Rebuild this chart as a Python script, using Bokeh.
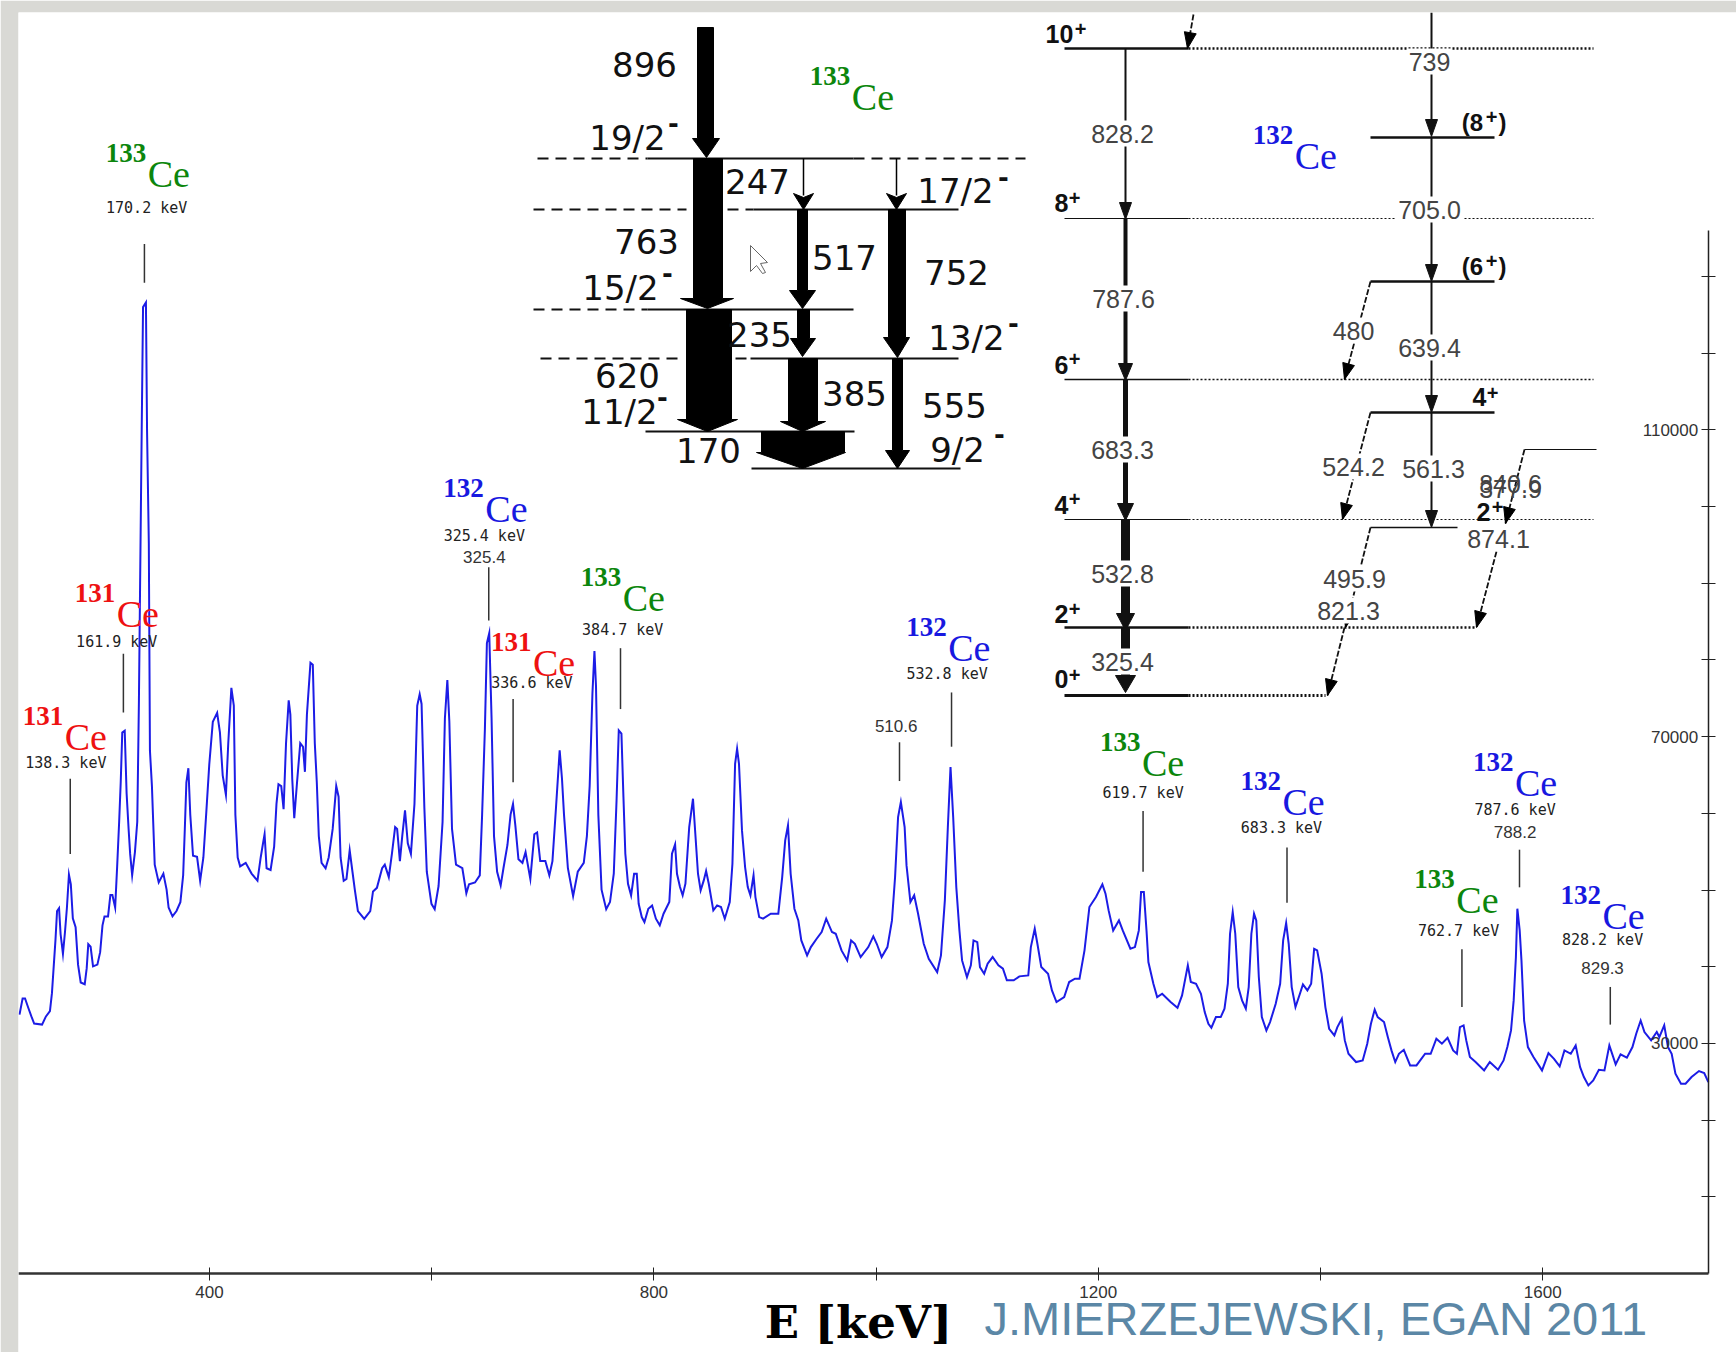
import math
from bokeh.plotting import figure
from bokeh.embed import file_html
from bokeh.resources import INLINE
from bokeh.core.properties import value
from bokeh.models import FixedTicker, Range1d

energies = [229.0,231.8,234,236.8,239.7,242.2,249.3,252.8,256.4,258.2,259.9,261.4,262.8,264.6,266,268.1,269.9,271.7,273.5,275.2,277,279.5,281.7,284.1,287.7,289.5,290.9,293,295.2,299.1,301.6,303.7,305.5,308.7,310.8,312.6,315.1,316.9,318.7,320.1,321.5,323.7,325.4,327.2,328.6,330.4,332.9,335,336.5,337.5,339,340.2,342.8,343.8,345.4,346.4,348.2,350.7,354.3,358.5,361.4,363.2,366.7,370.3,373.8,376.3,377.8,379.2,381,382.7,385.2,388.8,391.6,394.5,397,399.8,403,406.9,409.4,411.9,414.8,416.9,419.7,421.9,423.3,425.4,427.6,432.6,437.9,443.2,446.1,448.2,449.6,451.4,455,458.2,460.3,462.1,464.6,466.7,468.9,471.3,472.8,474.5,476.3,478.8,481.7,484.2,485.9,487.7,490.9,493,494.8,496.6,498.4,500.9,504.5,507.3,510.9,514.1,516.2,518,520.8,523.3,526.2,528.7,530.8,533.6,539.3,544.7,547.2,550.7,555.4,557.8,561.4,564.2,567.1,568.9,571.4,573.5,576,578.5,581.3,584.5,587,589.2,590.9,593.4,595.6,599.8,602.7,606.2,609.8,611.9,614.1,615.9,618.3,621.9,627.6,631.2,633.6,639,643.3,645.4,647.9,649.7,651.8,653.9,656.1,658.9,662.1,664.6,668.2,671,673.2,675.3,678.1,681.7,684.5,688.8,692.4,694.9,697.7,702.3,705.9,708.7,711.9,715.2,717.3,719.1,722.6,727.3,731.5,736.9,739.7,742.2,744.7,746.5,747.9,750,752.9,757.1,760.5,763.9,766.4,768.4,770.8,772.6,774.3,776.7,779.5,782.2,784.6,786.3,789.1,791.5,795,798.4,801.8,805.3,808.7,813.9,816.3,819.1,820.8,823.5,825.9,828.4,831.8,835.2,837.3,839.7,842.1,844.9,847,849.4,853.5,856.9,860.4,863.8,868.3,870.7,873.1,874.9,876.6,879.3,882.1,884.5,886.9,889.7,891.4,894.8,898.3,905.2,912,915.5,918.2,920.7,923.1,926.5,930,932.7,937.9,941.3,946.5,951,955.1,960.3,963.7,968.9,974,977.5,980.9,986.1,993,997.5,1000.6,1005,1010.2,1014.3,1017.1,1019.8,1022.3,1025.7,1027.4,1030.9,1034.3,1037.8,1042.9,1047.4,1055,1058.4,1061.9,1064.6,1067,1069.4,1072.2,1075,1077.4,1081.8,1085.3,1087.7,1091.1,1093.5,1097.3,1100.4,1104.9,1110.1,1114.2,1117.7,1123.9,1129,1137,1139.3,1142.8,1145.2,1148.7,1154.8,1158.3,1162.4,1169.3,1173.8,1179,1183.1,1187.6,1192,1197.9,1203.7,1206.5,1209.3,1213.4,1218.6,1222,1228.9,1233,1236.5,1238.5,1241,1243.4,1245.1,1249.6,1253,1257.5,1265.1,1271.3,1275.4,1280.6,1283.3,1288,1292.4,1295.8,1299.1,1301.8,1305.9,1310.2,1313.6,1316.6,1318.6,1321,1323.3,1326,1329.4,1332.8,1335.4,1337.8,1340.2,1342.2,1344.5,1347.2,1351.3,1354.6,1359.7,1363.7,1366.4,1369.1,1371.4,1374.1,1377.5,1381.5,1384.2,1388.2,1391.6,1394.3,1397,1401,1404.4,1407.8,1412.5,1415.2,1419.2,1421.9,1425.2,1432,1438,1442.1,1445.4,1448.8,1451.5,1457.2,1460.6,1463.9,1467.3,1470.6,1475,1480.7,1486.4,1494.2,1499.2,1504.3,1509.3,1514.4,1519.4,1522.8,1525.5,1528.8,1531.2,1534.5,1539.6,1547.3,1552.4,1559.8,1564.8,1568.2,1571.5,1573.9,1575.9,1577.2,1579.3,1580.9,1583.3,1586.7,1591.7,1599.4,1605.2,1610.2,1615.3,1619.6,1625.3,1629.7,1633.7,1637.1,1641.1,1645.5,1650.6,1655.6,1660,1665.7,1670.1,1675.8,1680.8,1684.2,1688.2,1691.6,1697.6,1702.7,1705,1709.4,1712.8,1716.1,1719.5,1724.5,1728.6,1734,1740.7,1745.4,1749.1]
counts = [33750,35850,35850,34680,33520,32590,32450,33520,34220,36550,40270,43530,47260,47630,44230,41670,44460,47720,52000,50750,46320,45160,40270,37940,37710,39810,42930,42600,40040,40270,41900,45390,46560,46560,49350,49350,47720,53080,58900,64020,70540,70770,62620,57960,54710,51910,54940,58900,74730,89160,110000,126000,126600,110000,95210,68200,63550,53310,50980,52140,50050,47720,46560,47260,48420,51910,57960,64020,65880,59830,54470,54330,51210,54240,59830,66350,71930,73100,70540,64950,62390,69140,76360,74030,59830,54240,53080,53540,52140,51210,54240,56100,57270,52840,52610,55640,61220,63780,63550,60530,69140,74730,72860,64480,59360,64020,69140,68670,65410,72860,79620,79380,69140,64020,57030,53540,52840,54240,57960,63550,62160,54240,51210,51450,55170,52380,50050,47260,46230,47260,49820,50280,52840,53310,51680,54710,58200,57960,53770,57030,60390,56100,54710,61220,74030,75520,74260,60760,52380,48190,47490,50520,58900,72400,77380,71930,57960,53310,52840,49580,50750,50980,51910,59830,71000,82180,83480,72400,57030,52380,50610,52840,55870,59830,61220,58430,54010,53540,54940,51450,57270,57500,53770,53770,51910,53770,60760,68210,64480,59830,52840,49210,52380,53540,57030,63550,75660,81150,76590,59830,50050,47490,48430,52120,61680,70810,70380,62120,54730,50820,49300,52120,52120,48210,46470,45820,47560,47990,46260,45390,46910,48430,54730,55950,52120,50380,49300,50820,58210,61900,57340,52120,49950,51250,52470,50820,47340,47990,47780,46260,48430,53430,66460,68420,66460,57770,52990,50380,49300,51910,49080,46470,46260,46910,46910,51690,56470,58420,52120,47560,46040,43430,41480,42560,43650,44520,46260,44520,44300,42130,40820,43430,42990,41260,42560,43950,42990,41260,42560,46040,51690,59510,61470,58210,53210,48430,49300,46910,42990,41040,39300,41480,48650,58210,66030,59510,50380,44730,40820,38650,40170,43430,43210,39950,39090,40390,41260,40170,39740,38220,38220,38740,38870,42560,44950,42990,39950,39090,36910,35390,36040,38000,38430,38430,42130,47780,49080,50730,49520,47340,44730,46040,44730,42340,42560,44730,49730,49730,44730,40610,37780,36040,36480,35390,34650,36260,40170,38000,37780,36480,34080,32560,32040,33430,33430,34520,37780,44300,47120,44300,37340,35610,34520,37340,44300,46910,46040,38650,33430,31690,32780,35170,37780,43430,45690,42990,37340,34740,36480,37690,36910,37780,42340,42130,39080,34740,31910,31040,32130,33220,30390,28650,27570,27780,29960,32560,34390,33430,32780,30830,29090,27570,28650,29170,27130,27130,28650,28650,30610,29960,30740,29090,28650,32130,32350,30390,28220,27570,26480,27570,26570,27780,29520,31690,35610,41260,47560,44730,40820,32980,29520,28220,26480,28740,27990,27000,29090,28650,29740,26910,25610,24520,25180,26570,26480,29740,27260,28570,28130,29520,31260,32980,31480,30390,31480,30830,32350,29520,28650,26040,24740,24740,25610,26390,26130,24960]

x_ticks = [400, 600, 800, 1000, 1200, 1400, 1600]
x_tick_labels = {400: "400", 600: "", 800: "800", 1000: "", 1200: "1200", 1400: "", 1600: "1600"}
y_ticks = [10000 * i for i in range(1, 14)]
y_tick_labels = {v: "" for v in y_ticks}
y_tick_labels.update({30000: "30000", 70000: "70000", 110000: "110000"})

X0, PPX = 228.1, 1.111
Y0, PPY = 1273.0, 130.38
R = 1736 / 1568

def sx(px):
    return X0 + (px - 18) / PPX

def sy(py):
    return (Y0 - py) * PPY

p = figure(width=1736, height=1352, output_backend="svg", toolbar_location=None,
           x_range=Range1d(X0, X0 + 1718 / PPX), y_range=Range1d((Y0 - 1352) * PPY, (Y0 - 12) * PPY),
           min_border_left=18, min_border_top=12, min_border_right=0, min_border_bottom=0,
           background_fill_color="white", border_fill_color="#d9d9d5")
p.grid.visible = False
p.outline_line_color = None

xa = p.xaxis[0]
xa.fixed_location = 0
xa.bounds = (X0, 1749)
xa.ticker = FixedTicker(ticks=x_ticks, minor_ticks=[])
xa.major_label_overrides = x_tick_labels
xa.axis_line_width = 2.5
xa.axis_line_color = "#333333"
xa.major_tick_in = 6
xa.major_tick_out = 7
xa.major_tick_line_color = "#222222"
xa.minor_tick_line_color = None
xa.major_label_standoff = 5
xa.major_label_text_font = "Liberation Sans"
xa.major_label_text_font_size = "17px"
xa.major_label_text_color = "#333333"

ya = p.yaxis[0]
ya.fixed_location = 1749
ya.bounds = (0, 136000)
ya.ticker = FixedTicker(ticks=y_ticks, minor_ticks=[])
ya.major_label_overrides = y_tick_labels
ya.axis_line_width = 1.5
ya.axis_line_color = "#222222"
ya.major_tick_in = 7
ya.major_tick_out = 7
ya.major_tick_line_color = "#222222"
ya.minor_tick_line_color = None
ya.major_label_standoff = 3
ya.major_label_text_font = "Liberation Sans"
ya.major_label_text_font_size = "17px"
ya.major_label_text_color = "#333333"

p.line(energies, counts, line_color="#1c1ce6", line_width=2, line_join="miter")

def txt(px, py, s, size, color="#000000", font="Liberation Sans", style="normal", align="center", base="middle"):
    p.text([sx(px)], [sy(py)], text=[s], text_font=value(font), text_font_size=f"{size}px",
           text_color=color, text_font_style=style, text_align=align, text_baseline=base)

def seg(x1, y1, x2, y2, width=1.5, color="#000000", dash="solid"):
    p.segment([sx(x1)], [sy(y1)], [sx(x2)], [sy(y2)], line_width=width, line_color=color, line_dash=dash)

def poly(pts, fill="#000000", line=None):
    p.patch([sx(a) for a, b in pts], [sy(b) for a, b in pts], fill_color=fill,
            line_color=line if line else fill, line_width=1)

def box(x1, y1, x2, y2):
    p.quad(left=[sx(x1)], right=[sx(x2)], top=[sy(y1)], bottom=[sy(y2)], fill_color="white", line_color=None)

def arrow(xl, xr, y0, y1, hl, hr, xt, yt):
    poly([(xl, y0), (xr, y0), (xr, y1), (hr, y1), (xt, yt), (hl, y1), (xl, y1)])

def dhead(x1, y1, x2, y2, ln=16, hw=6):
    d = math.hypot(x2 - x1, y2 - y1)
    ux, uy = (x2 - x1) / d, (y2 - y1) / d
    bx, by = x2 - ux * ln, y2 - uy * ln
    poly([(x2, y2), (bx - uy * hw, by + ux * hw), (bx + uy * hw, by - ux * hw)])

def iso(xr, yr, num, color):
    x, y = xr * R, yr * R
    txt(x, y + 9, num, 27, color, "Liberation Serif", "bold", "left", "middle")
    txt(x + 42, y + 30, "Ce", 38, color, "Liberation Serif", "normal", "left", "middle")

RED, GREEN, BLUE = "#ee1111", "#0c860c", "#1818e0"
MONO = "DejaVu Sans Mono"

annotations = [
    ("133", GREEN, 95, 130, "170.2 keV", 132, 187, None, 0, 130, 220, 255),
    ("131", RED, 67, 527, "161.9 keV", 105, 579, None, 0, 111, 590, 643),
    ("131", RED, 20, 638, "138.3 keV", 59, 689, None, 0, 63, 703, 771),
    ("132", BLUE, 400, 432, "325.4 keV", 437, 484, "325.4", 503, 441, 512, 560),
    ("133", GREEN, 524, 513, "384.7 keV", 562, 569, None, 0, 560, 585, 640),
    ("131", RED, 443, 571, "336.6 keV", 480, 616, None, 0, 463, 631, 706),
    ("132", BLUE, 818, 558, "532.8 keV", 855, 608, None, 0, 859, 625, 674),
    ("133", GREEN, 993, 662, "619.7 keV", 1032, 716, None, 0, 1032, 732, 787),
    ("132", BLUE, 1120, 697, "683.3 keV", 1157, 747, None, 0, 1162, 765, 815),
    ("133", GREEN, 1277, 785, "762.7 keV", 1317, 840, None, 0, 1320, 857, 909),
    ("132", BLUE, 1330, 680, "787.6 keV", 1368, 731, "788.2", 751, 1372, 767, 801),
    ("132", BLUE, 1409, 800, "828.2 keV", 1447, 849, "829.3", 874, 1454, 891, 925),
]
for num, col, ix, iy, lab, lx, ly, extra, ey, tx, t0, t1 in annotations:
    seg(tx * R, t0 * R, tx * R, t1 * R, 1.5, "#333333")
    iso(ix, iy, num, col)
    txt(lx * R, ly * R, lab, 15, "#222222", MONO)
    if extra:
        txt(lx * R, ey * R, extra, 17, "#333333")
seg(812 * R, 670 * R, 812 * R, 705 * R, 1.5, "#333333")
txt(809 * R, 655 * R, "510.6", 17, "#333333")
iso(731, 60, "133", GREEN)
iso(1131, 113, "132", BLUE)

# 133Ce level scheme
for x1, x2, y in [(537, 647, 158), (853, 1025, 158), (533, 686, 209), (533, 647, 309), (540, 680, 358)]:
    seg(x1, y, x2, y, 2, "#111111", "11 7")
seg(727, 209, 753, 209, 2, "#111111", "11 7")
seg(735, 358, 750, 358, 2, "#111111", "11 7")
for x1, x2, y in [(647, 853, 158), (753, 958, 209), (647, 853, 309), (750, 958, 358), (645, 854, 431), (751, 960, 468)]:
    seg(x1, y, x2, y, 2, "#111111")
arrow(697, 713, 27, 138, 692, 719, 706, 157)
arrow(693, 722, 158, 298, 680, 733, 707, 308)
arrow(686, 731, 309, 419, 677, 737, 707, 431)
arrow(797, 807, 209, 290, 789, 815, 802, 308)
arrow(797, 809, 309, 338, 790, 815, 802, 356)
arrow(788, 817, 358, 421, 780, 825, 802, 431)
arrow(761, 844, 431, 452, 756, 845, 802, 468)
arrow(888, 905, 209, 337, 883, 909, 897, 357)
arrow(892, 902, 358, 450, 885, 909, 897, 468)
for x, t1 in [(803, 195), (896, 195)]:
    seg(x, 158, x, t1, 1.5)
    poly([(x - 10, 193), (x, 197), (x + 10, 193), (x, 209)])
poly([(750, 245), (750, 271), (756, 265), (762, 273), (765, 272), (760, 263), (767, 262)], "white", "#666666")
for x, y, s in [(644, 64, "896"), (757, 181, "247"), (646, 241, "763"), (844, 257, "517"), (956, 272, "752"),
                (759, 334, "235"), (627, 375, "620"), (854, 393, "385"), (954, 405, "555"), (708, 450, "170"),
                (627, 137, "19/2"), (955, 190, "17/2"), (620, 287, "15/2"), (966, 337, "13/2"), (619, 411, "11/2"), (957, 449, "9/2")]:
    txt(x, y, s, 34, "#111111", "DejaVu Sans")
for x, y in [(673, 122), (1003, 176), (667, 272), (1013, 322), (662, 396), (999, 433)]:
    txt(x, y, "-", 26, "#111111", "DejaVu Sans", "bold")

# 132Ce level scheme
for y, w, x2 in [(48, 2.5, 1593), (218, 1.2, 1593), (379, 1.6, 1593), (519, 1.2, 1593), (627, 2.5, 1476), (695, 3, 1325)]:
    seg(1064, y, 1188, y, w, "#111111")
    seg(1188, y, x2, y, w, "#111111", "2 2")
for x1, x2, y, w in [(1370, 1494, 137, 2.5), (1370, 1494, 281, 2.5), (1370, 1494, 412, 2.5), (1370, 1457, 527, 1.5), (1524, 1596, 449, 1.2)]:
    seg(x1, y, x2, y, w, "#111111")
for y0, y1, w, hw in [(48, 202, 2, 6), (218, 363, 4, 7), (379, 503, 5, 8), (519, 613, 9, 9), (627, 675, 9, 10)]:
    seg(1125, y0, 1125, y1, w, "#111111")
    poly([(1125 - hw, y1), (1125 + hw, y1), (1125, y1 + 17)], "#111111")
for y0, y1 in [(12, 119), (137, 264), (281, 395), (412, 510)]:
    seg(1431, y0, 1431, y1, 2, "#111111")
    poly([(1425, y1), (1437, y1), (1431, y1 + 17)], "#111111")
for x1, y1, x2, y2 in [(1370, 281, 1344, 379), (1370, 412, 1342, 519), (1370, 527, 1345, 627), (1344, 627, 1327, 695),
                       (1496, 551, 1476, 627), (1524, 449, 1505, 523), (1193, 14, 1187, 48)]:
    seg(x1, y1, x2, y2, 1.8, "#111111", "6 2")
    dhead(x1, y1, x2, y2)
gr = "#444444"
for x, y, s in [(1122, 133, "828.2"), (1123, 298, "787.6"), (1122, 449, "683.3"), (1122, 573, "532.8"), (1122, 661, "325.4"),
                (1429, 61, "739"), (1429, 209, "705.0"), (1353, 330, "480"), (1429, 347, "639.4"), (1353, 466, "524.2"),
                (1433, 468, "561.3"), (1498, 538, "874.1"), (1354, 578, "495.9"), (1348, 610, "821.3")]:
    w = 13 * len(s) + 4
    box(x - w / 2, y - 13, x + w / 2, y + 13)
    txt(x, y, s, 25, gr)
txt(1510, 483, "840.6", 25, gr)
txt(1510, 488, "377.9", 25, gr)
for x, y, s in [(1059, 33, "10"), (1061, 202, "8"), (1061, 364, "6"), (1061, 504, "4"), (1061, 613, "2"), (1061, 678, "0")]:
    txt(x, y, s, 25, "#111111", style="bold")
for x, y in [(1080, 28), (1074, 197), (1074, 358), (1074, 498), (1074, 608), (1074, 674)]:
    txt(x, y, "+", 20, "#111111", style="bold")
for x, y, s, sx2 in [(1472, 122, "(8", 1491), (1472, 266, "(6", 1491)]:
    txt(x, y, s, 24, "#111111", style="bold")
    txt(sx2, y - 6, "+", 20, "#111111", style="bold")
    txt(sx2 + 11, y, ")", 24, "#111111", style="bold")
txt(1479, 396, "4", 25, "#111111", style="bold")
txt(1492, 392, "+", 20, "#111111", style="bold")
txt(1483, 511, "2", 25, "#111111", style="bold")
txt(1497, 506, "+", 20, "#111111", style="bold")

txt(858, 1322, "E [keV]", 45, "#000000", "DejaVu Serif", "bold")
txt(984, 1318, "J.MIERZEJEWSKI, EGAN 2011", 47, "#5b87a6", "Liberation Sans", "normal", "left", "middle")

open("out.html", "w").write(file_html(p, INLINE))
